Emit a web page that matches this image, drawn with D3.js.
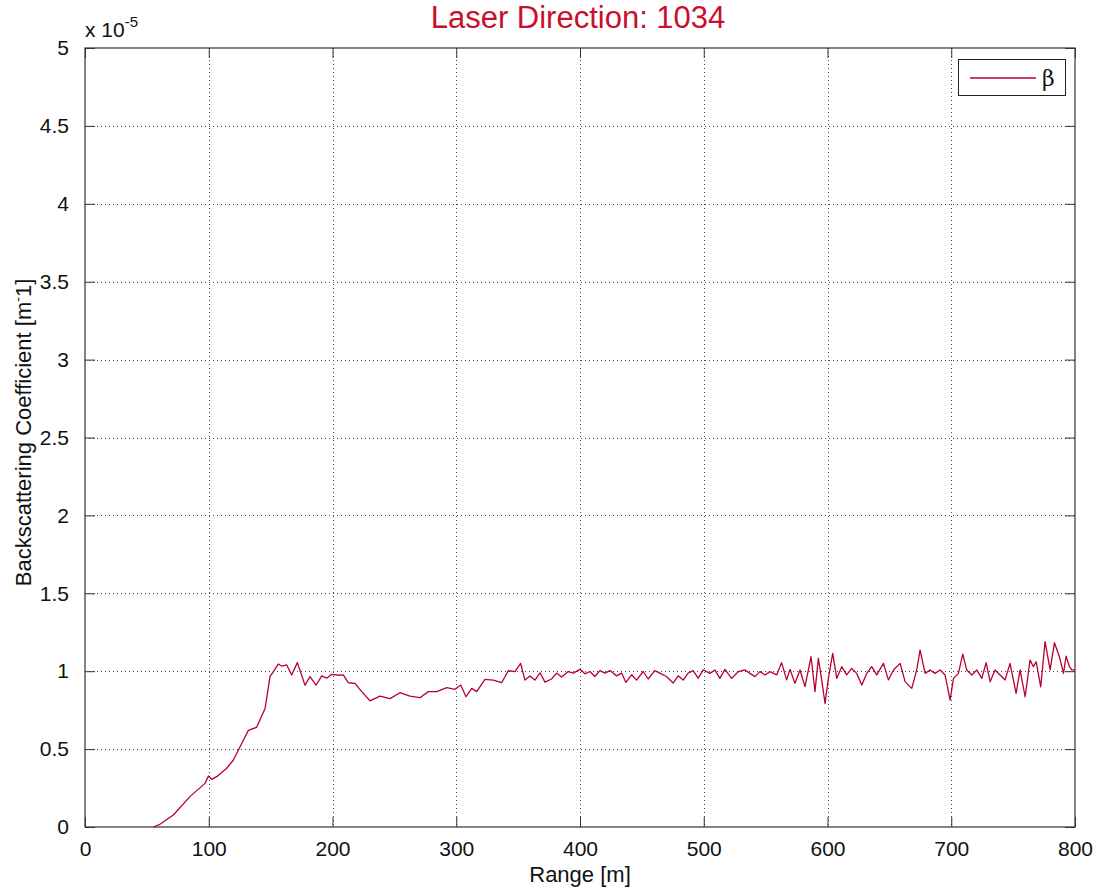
<!DOCTYPE html>
<html lang="en">
<head>
<meta charset="utf-8">
<style>
  body { margin: 0; background: #fff; }
  text { font-family: "Liberation Sans", Arial, sans-serif; }
</style>
</head>
<body>
<svg id="chart" width="1109" height="889"></svg>
<script src="https://cdn.jsdelivr.net/npm/d3@7"></script>
<script>
// range in metres
var rangeM = [55.2, 60, 71.4, 84.8, 97, 99.7, 102.4, 106.4, 114.5, 119.9, 125.3, 132, 138.7, 145.5, 149.5, 152.2,
  156.2, 158.9, 163, 167, 171.6, 177.8, 181.8, 186.7, 191.3, 195.3, 199.3, 205.5,
  208.7, 212.8, 218.2, 223.6, 230.3, 238.4, 246.5, 254.5, 262.6, 270.7, 277.4, 284.2, 292.3, 299, 303.6, 307.9,
  312.5, 316.5, 323.2, 329.9, 336.7, 342, 347.5, 352, 355.5, 359.6, 363.6, 367.7, 371.7, 377, 381.1, 385.1,
  390.5, 394.5, 400, 404, 408, 412, 416.1, 420.1, 424.2, 429.6, 433.6, 437.1, 441.7, 445.7, 451.1, 455.1,
  460.5, 464.5, 469.9, 475.3, 479.3, 483.4, 487.4, 491.4, 495.5, 499.6,
  505, 509, 513, 517.1, 522.5, 527.9, 533.3, 537.3, 541.4, 545.4, 549.5, 553.5, 558.9, 562.9, 567, 569.7,
  573.7, 577.8, 581.8, 586.7, 589.9, 592.6, 595.3, 598, 600.7, 604.2, 607.5, 611.5, 615.5, 619.6, 623.6,
  627.7, 631.7, 635.7, 639.8, 645.2, 649.2, 653.3, 658.7, 662.7, 668.1, 672.1, 674.8, 678.9, 682.9, 686.9,
  691, 695, 699.1, 701.8, 705.8, 709.3, 712.5, 716.6, 720.6, 724.7, 728.2, 731.4, 735.4, 739.5, 743.5,
  747.5, 752.4, 755.6, 759.7, 763.7, 766.4, 768.6, 772.3, 775.8, 779.9, 783.4, 787.4, 790.7, 792.8, 795.5,
  797.4, 800];

// backscattering coefficient, in units of 1e-5 m^-1
var beta = [0, 0.015, 0.077, 0.195, 0.28, 0.327, 0.306, 0.323, 0.377, 0.43, 0.515, 0.62, 0.64, 0.76, 0.965, 0.997,
  1.046, 1.033, 1.04, 0.976, 1.055, 0.91, 0.965, 0.91, 0.97, 0.955, 0.98, 0.974,
  0.976, 0.926, 0.922, 0.869, 0.81, 0.84, 0.824, 0.862, 0.84, 0.83, 0.869, 0.869, 0.894, 0.884, 0.911, 0.836,
  0.89, 0.869, 0.948, 0.943, 0.926, 1.003, 0.997, 1.05, 0.943, 0.969, 0.943, 0.99, 0.93, 0.95, 0.988, 0.962,
  0.998, 0.988, 1.012, 0.983, 0.998, 0.966, 1.004, 0.988, 1.004, 0.97, 0.988, 0.928, 0.977, 0.943, 0.998, 0.95,
  1.004, 0.988, 0.966, 0.924, 0.97, 0.943, 0.988, 1.004, 0.955, 1.008,
  0.986, 1.008, 0.954, 1.012, 0.954, 0.997, 1.008, 0.986, 0.965, 0.997, 0.976, 0.997, 0.976, 1.055, 0.944, 1.012,
  0.922, 1.008, 0.901, 1.093, 0.869, 1.083, 0.944, 0.794, 0.954, 1.115, 0.954, 1.029, 0.976, 1.018, 0.986,
  0.911, 0.986, 1.029, 0.976, 1.05, 0.944, 1.008, 1.05, 0.933, 0.89, 1.008, 1.136, 0.986, 1.008, 0.986,
  1.008, 0.976, 0.815, 0.954, 0.986, 1.11, 1.008, 0.976, 1.008, 0.954, 1.055, 0.933, 1.008, 0.976, 0.944,
  1.05, 0.858, 1.008, 0.836, 1.072, 1.029, 1.061, 0.9, 1.19, 1.008, 1.183, 1.093, 0.986, 1.097, 1.029,
  1.008, 1.008];

var xTicks = [0, 100, 200, 300, 400, 500, 600, 700, 800];
var yTicks = [0, 0.5, 1, 1.5, 2, 2.5, 3, 3.5, 4, 4.5, 5];

var lineColor = "#b8002e";
// plot frame (named so they do not clash with window.top)
var pL = 85, pR = 1075, pT = 48, pB = 827;

var svg = d3.select("#chart");

var x = d3.scaleLinear().domain([0, 800]).range([pL, pR]);
var y = d3.scaleLinear().domain([0, 5]).range([pB, pT]);

// dotted grid
svg.append("g").selectAll("line")
  .data(xTicks.slice(1, -1))
  .enter().append("line")
  .attr("x1", function(d){ return Math.round(x(d)) + 0.5; })
  .attr("x2", function(d){ return Math.round(x(d)) + 0.5; })
  .attr("y1", pT).attr("y2", pB)
  .attr("stroke", "#444").attr("stroke-width", 1).attr("stroke-dasharray", "1,3");

svg.append("g").selectAll("line")
  .data(yTicks.slice(1, -1))
  .enter().append("line")
  .attr("y1", function(d){ return Math.round(y(d)) + 0.5; })
  .attr("y2", function(d){ return Math.round(y(d)) + 0.5; })
  .attr("x1", pL).attr("x2", pR)
  .attr("stroke", "#444").attr("stroke-width", 1).attr("stroke-dasharray", "1,3");

// axes with inward ticks on all four sides
var fmt = function(d){ return String(d); };
var tk = 10;

var gB = svg.append("g").attr("transform", "translate(0," + pB + ")")
  .call(d3.axisBottom(x).tickValues(xTicks).tickFormat(fmt).tickSizeInner(-tk).tickSizeOuter(0).tickPadding(tk + 4));
var gT = svg.append("g").attr("transform", "translate(0," + pT + ")")
  .call(d3.axisTop(x).tickValues(xTicks).tickFormat("").tickSizeInner(-tk).tickSizeOuter(0));
var gL = svg.append("g").attr("transform", "translate(" + pL + ",0)")
  .call(d3.axisLeft(y).tickValues(yTicks).tickFormat(fmt).tickSizeInner(-tk).tickSizeOuter(0).tickPadding(tk + 6));
var gR = svg.append("g").attr("transform", "translate(" + pR + ",0)")
  .call(d3.axisRight(y).tickValues(yTicks).tickFormat("").tickSizeInner(-tk).tickSizeOuter(0));

[gB, gT, gL, gR].forEach(function(g){
  g.select(".domain").remove();
  g.selectAll(".tick line").attr("stroke", "#333");
  g.selectAll("text").attr("font-size", 21).attr("fill", "#111")
    .style("font-family", "'Liberation Sans', Arial, sans-serif");
});

svg.append("rect")
  .attr("x", pL).attr("y", pT)
  .attr("width", pR - pL).attr("height", pB - pT)
  .attr("fill", "none").attr("stroke", "#333").attr("stroke-width", 1.2);

// the data line
var pts = rangeM.map(function(r, i){ return [r, beta[i]]; });
var line = d3.line()
  .x(function(d){ return x(d[0]); })
  .y(function(d){ return y(d[1]); });

svg.append("path")
  .attr("d", line(pts))
  .attr("fill", "none")
  .attr("stroke", lineColor)
  .attr("stroke-width", 1.3)
  .attr("stroke-linejoin", "round");

// exponent label
var ex = svg.append("text").attr("x", pL).attr("y", 37).attr("font-size", 21).attr("fill", "#111");
ex.append("tspan").text("x 10");
ex.append("tspan").attr("dy", -10).attr("font-size", 15).text("-5");

// title
svg.append("text")
  .attr("x", (pL + pR) / 2 - 2).attr("y", 28)
  .attr("text-anchor", "middle")
  .attr("font-size", 31)
  .attr("fill", "#c8102e")
  .text("Laser Direction: 1034");

// axis labels
svg.append("text")
  .attr("x", (pL + pR) / 2).attr("y", 882)
  .attr("text-anchor", "middle")
  .attr("font-size", 22).attr("fill", "#111")
  .text("Range [m]");

var yl = svg.append("text")
  .attr("transform", "translate(31," + ((pT + pB) / 2 - 5) + ") rotate(-90)")
  .attr("text-anchor", "middle")
  .attr("font-size", 22).attr("fill", "#111");
yl.append("tspan").text("Backscattering Coefficient [m");
yl.append("tspan").attr("dy", -8).attr("font-size", 14).text("-");
yl.append("tspan").attr("dy", 8).text("1]");

// legend
var lg = svg.append("g");
lg.append("rect")
  .attr("x", 958.5).attr("y", 59.5).attr("width", 107).attr("height", 36)
  .attr("fill", "#fff").attr("stroke", "#222").attr("stroke-width", 1);
lg.append("line")
  .attr("x1", 970).attr("x2", 1036).attr("y1", 78).attr("y2", 78)
  .attr("stroke", lineColor).attr("stroke-width", 1.3);
lg.append("text")
  .attr("x", 1042).attr("y", 86)
  .attr("font-size", 22).attr("fill", "#111")
  .style("font-family", "'DejaVu Serif', serif")
  .text("β");
</script>
</body>
</html>
